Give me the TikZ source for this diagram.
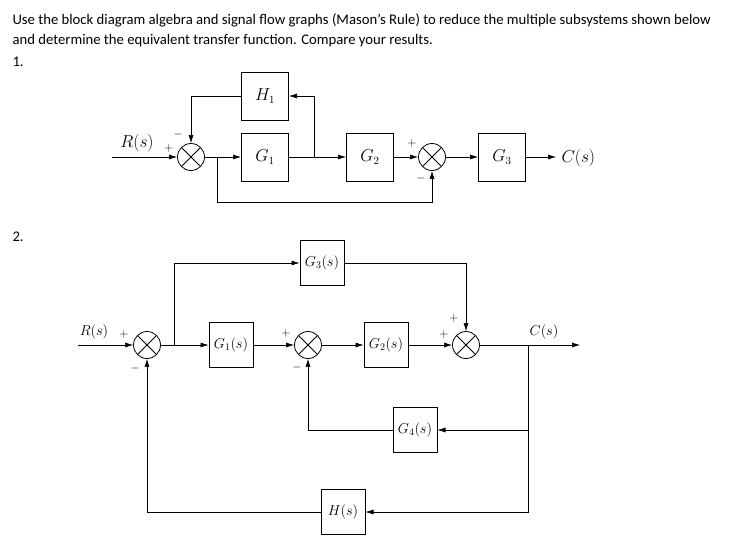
\documentclass[tikz,border=0pt]{standalone}
\usepackage{fontspec}
\setmainfont{Carlito}
\usetikzlibrary{arrows.meta, positioning}

\tikzset{
  block/.style={draw, line width=1pt, minimum width=47pt, minimum height=48pt, inner sep=0pt, font=\fontsize{16}{18}\selectfont},
  sblock/.style={draw, line width=1pt, minimum width=44pt, minimum height=45pt, inner sep=0pt, font=\fontsize{14}{16}\selectfont},
  sum/.style={draw, circle, line width=0.8pt, minimum size=27pt, inner sep=0pt,
    path picture={\draw (path picture bounding box.north west) -- (path picture bounding box.south east)
      (path picture bounding box.north east) -- (path picture bounding box.south west);}},
  sig/.style={line width=0.6pt, -{Latex[length=8pt,width=5pt]}},
  lbl/.style={font=\fontsize{16}{18}\selectfont},
  slbl/.style={font=\fontsize{14}{16}\selectfont},
  sgn/.style={font=\fontsize{13}{14}\selectfont, inner sep=0pt},
  txt/.style={anchor=west, font=\fontsize{14.7}{16}\selectfont}
}

\begin{document}
\begin{tikzpicture}[x=1pt, y=-1pt]
  \useasboundingbox (0,0) rectangle (739,546);

  % Problem text
  \node[txt] (t1) at (9,20) {Use the block diagram algebra and signal flow graphs (Mason’s Rule) to reduce the multiple subsystems shown below};
  \node[txt] (t2) at (9,41) {and determine the equivalent transfer function. Compare your results.};
  \node[txt] (t3) at (9,62) {1.};
  \node[txt] (t4) at (9,237) {2.};

  % Diagram 1
  \coordinate (in1) at (112,157);
  \node[sum] (s1) at (191,157) {};
  \node[block] (g1) at (265,157) {$G_1$};
  \node[block] (h1) at (265,96) {$H_1$};
  \node[block] (g2) at (370,157) {$G_2$};
  \node[sum] (s2) at (432,157) {};
  \node[block] (g3) at (502,157) {$G_3$};
  \coordinate (out1) at (556,157);
  \coordinate (j1) at (217,157);
  \coordinate (j2) at (314,157);

  \node[lbl] (r1) at (137,143) {$R(s)$};
  \node[lbl, anchor=west] (c1) at (558,158) {$C(s)$};

  \draw[sig] (in1) -- (s1);
  \draw[sig] (s1) -- (g1);
  \draw[sig] (g1) -- (g2);
  \draw[sig] (g2) -- (s2);
  \draw[sig] (s2) -- (g3);
  \draw[sig] (g3) -- (out1);
  \draw[sig] (j2) |- (h1);
  \draw[sig] (h1.west) -| (s1);
  \draw[sig] (j1) |- (432,202) -- (s2);

  \node[sgn] at (169,148) {$+$};
  \node[sgn] at (178,134) {$-$};
  \node[sgn] at (412,143) {$+$};
  \node[sgn] at (421,178) {$-$};

  % Diagram 2
  \coordinate (in2) at (78,345);
  \node[sum] (u1) at (147,345) {};
  \node[sblock] (a1) at (231,345) {$G_1(s)$};
  \node[sum] (u2) at (308,345) {};
  \node[sblock] (a2) at (386,345) {$G_2(s)$};
  \node[sum] (u3) at (466,345) {};
  \node[sblock] (a3) at (322,263) {$G_3(s)$};
  \node[sblock] (a4) at (415,430) {$G_4(s)$};
  \node[sblock] (hh) at (343,512) {$H(s)$};
  \coordinate (k1) at (174,345);
  \coordinate (k2) at (528,345);
  \coordinate (out2) at (580,345);

  \node[slbl] (r2) at (94,332) {$R(s)$};
  \node[slbl] (c2) at (544,332) {$C(s)$};

  \draw[sig] (in2) -- (u1);
  \draw[sig] (u1) -- (a1);
  \draw[sig] (a1) -- (u2);
  \draw[sig] (u2) -- (a2);
  \draw[sig] (a2) -- (u3);
  \draw[sig] (u3) -- (out2);
  \draw[sig] (k1) |- (a3);
  \draw[sig] (a3.east) -| (u3);
  \draw[sig] (k2) |- (a4);
  \draw[sig] (a4.west) -| (u2);
  \draw[sig] (k2) |- (hh);
  \draw[sig] (hh.west) -| (u1);

  \node[sgn] at (124,334) {$+$};
  \node[sgn] at (135,368) {$-$};
  \node[sgn] at (286,333) {$+$};
  \node[sgn] at (297,367) {$-$};
  \node[sgn] at (454,318) {$+$};
  \node[sgn] at (444,334) {$+$};
\end{tikzpicture}
\end{document}
